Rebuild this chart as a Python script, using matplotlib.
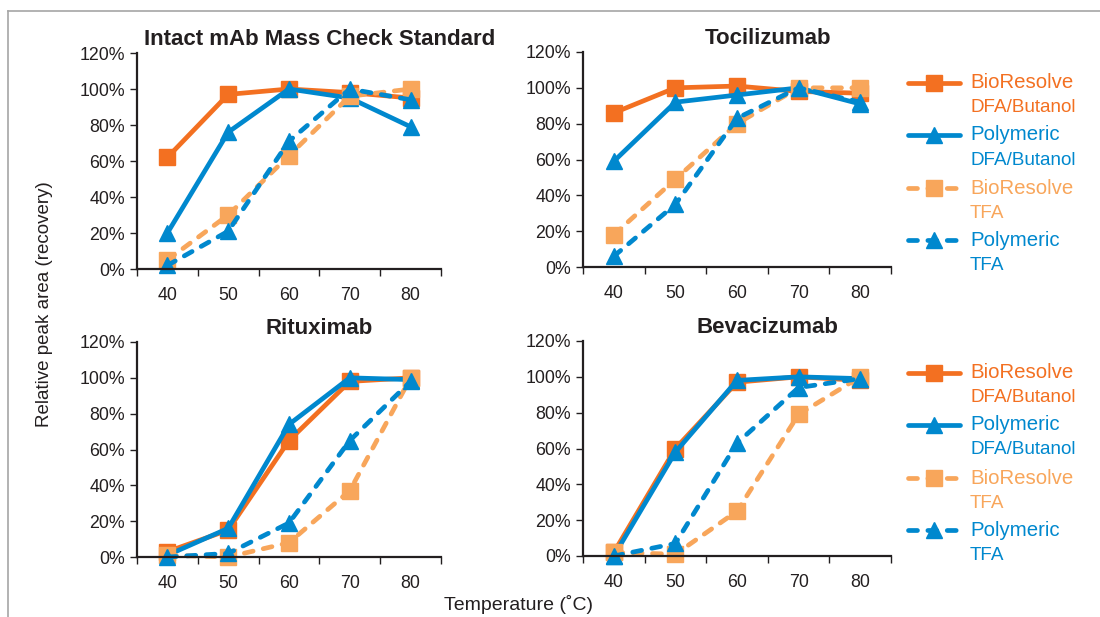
import numpy as np
import matplotlib
matplotlib.use("Agg")
import matplotlib.pyplot as plt
from matplotlib.lines import Line2D
from matplotlib.ticker import PercentFormatter

plt.rcParams['font.family'] = ['Liberation Sans', 'DejaVu Sans']

# temperatures (deg C)
temps = [40, 50, 60, 70, 80]

panel_titles = ['Intact mAb Mass Check Standard', 'Tocilizumab', 'Rituximab', 'Bevacizumab']

# relative peak area (%), one list per panel
bio_dfa = [
    [62, 97, 100, 98, 95],
    [86, 100, 101, 98, 97],
    [3, 15, 65, 98, 100],
    [2, 60, 97, 100, 98],
]
poly_dfa = [
    [20, 76, 100, 95, 79],
    [59, 92, 96, 100, 91],
    [1, 16, 74, 100, 99],
    [0, 58, 98, 100, 99],
]
bio_tfa = [
    [5, 30, 63, 96, 100],
    [18, 49, 80, 100, 100],
    [1, 0, 8, 37, 100],
    [2, 1, 25, 79, 100],
]
poly_tfa = [
    [2, 21, 71, 100, 94],
    [6, 35, 83, 100, 92],
    [0, 2, 19, 65, 98],
    [0, 7, 63, 94, 99],
]

series_names = [('BioResolve', 'DFA/Butanol'), ('Polymeric', 'DFA/Butanol'),
                ('BioResolve', 'TFA'), ('Polymeric', 'TFA')]

c_orange = '#F37021'
c_blue = '#0088CE'
c_light = '#F8A65B'
txt = '#231F20'

styles = [
    dict(color=c_orange, marker='s', ls='-'),
    dict(color=c_blue, marker='^', ls='-'),
    dict(color=c_light, marker='s', ls='--'),
    dict(color=c_blue, marker='^', ls='--'),
]

W, H = 1100, 617
fig = plt.figure(figsize=(11, 6.17), dpi=100)

# axes boxes in pixels: left, right, top(120%), bottom(0%)
boxes = [(137, 441, 53, 269), (583, 891, 52, 267),
         (137, 441, 342, 557), (583, 891, 341, 556)]

LW = 3.4


def draw_line(ax, x, y, st):
    kw = dict(color=st['color'], lw=LW, marker=st['marker'], ms=11,
              mec=st['color'], mfc=st['color'], clip_on=False)
    if st['ls'] == '--':
        ln, = ax.plot(x, y, dashes=(1.9, 2.2), dash_capstyle='round', **kw)
    else:
        ln, = ax.plot(x, y, solid_capstyle='round', **kw)
    return ln


for i, (l, r, t, b) in enumerate(boxes):
    ax = fig.add_axes([l / W, 1 - b / H, (r - l) / W, (b - t) / H])
    data = [bio_dfa[i], poly_dfa[i], bio_tfa[i], poly_tfa[i]]
    for vals, st in zip(data, styles):
        draw_line(ax, temps, np.array(vals) / 100.0, st)
    ax.set_xlim(35, 85)
    ax.set_ylim(0, 1.2)
    ax.set_xticks(temps)
    ax.set_xticks(np.arange(35, 90, 10), minor=True)
    ax.tick_params(axis='x', which='major', length=0, pad=13, labelsize=12.8, labelcolor=txt)
    ax.tick_params(axis='x', which='minor', length=5, width=1, color=txt, direction='out')
    ax.set_yticks(np.arange(0, 1.21, 0.2))
    ax.yaxis.set_major_formatter(PercentFormatter(1.0, decimals=0))
    ax.tick_params(axis='y', length=5, width=1, color=txt, labelsize=12.8, labelcolor=txt)
    for s in ['top', 'right']:
        ax.spines[s].set_visible(False)
    for s in ['left', 'bottom']:
        ax.spines[s].set_linewidth(1.6)
        ax.spines[s].set_color(txt)
    ax.set_title(panel_titles[i], x=0.6, pad=6, fontsize=16, fontweight='bold', color=txt)


def draw_legend(top):
    ys = [top, top + 52, top + 105, top + 157]
    for (n1, n2), st, y in zip(series_names, styles, ys):
        yf = 1 - y / H
        ln = Line2D([908 / W, 960 / W], [yf, yf], transform=fig.transFigure,
                    color=st['color'], lw=LW, solid_capstyle='round')
        if st['ls'] == '--':
            ln.set_dashes((1.9, 2.2))
            ln.set_dash_capstyle('round')
        fig.add_artist(ln)
        fig.add_artist(Line2D([934 / W], [yf], transform=fig.transFigure,
                              marker=st['marker'], ms=11.5, color=st['color'], ls='none'))
        fig.text(970 / W, yf, n1, color=st['color'], fontsize=14.7, va='center', ha='left')
        fig.text(970 / W, 1 - (y + 25) / H, n2, color=st['color'], fontsize=13.6,
                 va='center', ha='left')


draw_legend(83)
draw_legend(373)

fig.text(45 / W, 1 - 304 / H, 'Relative peak area (recovery)', rotation=90,
         ha='center', va='center', fontsize=13.5, color=txt)
fig.text(519 / W, 1 - 605 / H, 'Temperature (˚C)', ha='center', va='center',
         fontsize=14, color=txt)

# light frame around the figure
fig.add_artist(Line2D([8 / W, 1], [1 - 11 / H, 1 - 11 / H], transform=fig.transFigure,
                      color='#A6A6A6', lw=1.2))
fig.add_artist(Line2D([8 / W, 8 / W], [0, 1 - 11 / H], transform=fig.transFigure,
                      color='#A6A6A6', lw=1.2))

fig.savefig('out.png', dpi=100)
